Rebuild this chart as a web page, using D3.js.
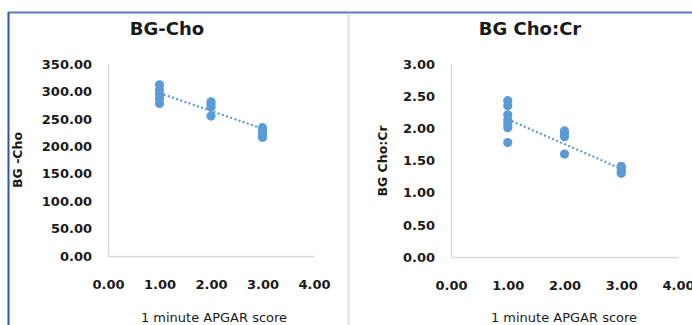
<!DOCTYPE html>
<html>
<head>
<meta charset="utf-8">
<script src="https://cdn.jsdelivr.net/npm/d3@7"></script>
<style>
  body { margin: 0; background: #fff; }
  svg { display: block; font-family: "DejaVu Sans", sans-serif; }
</style>
</head>
<body>
<div id="chart"></div>
<script>
// Data
var xTicks = [0, 1, 2, 3, 4];

var choX = [1, 1, 1, 1, 1, 2, 2, 2, 2, 3, 3, 3, 3];
var choY = [312, 303, 295, 287, 278, 281, 276, 271, 255, 234, 228, 222, 216];
var choTicks = [0, 50, 100, 150, 200, 250, 300, 350];
var choTrend = [[1, 297], [3, 232]];

var ratioX = [1, 1, 1, 1, 1, 1, 1, 2, 2, 2, 2, 3, 3, 3, 3];
var ratioY = [2.43, 2.35, 2.21, 2.13, 2.06, 2.01, 1.78, 1.96, 1.91, 1.87, 1.60, 1.41, 1.37, 1.33, 1.30];
var ratioTicks = [0, 0.5, 1, 1.5, 2, 2.5, 3];
var ratioTrend = [[1, 2.14], [3, 1.37]];

var dotColor = "#5b9bd5";
var axisColor = "#d9d9d9";

var svg = d3.select("#chart")
    .append("svg")
    .attr("width", 692)
    .attr("height", 325);

svg.append("rect").attr("width", 692).attr("height", 325).attr("fill", "#fff");

// panel frame
svg.append("line")
    .attr("x1", 8.5).attr("x2", 692).attr("y1", 12.5).attr("y2", 12.5)
    .attr("stroke", "#5a7fc0").attr("stroke-width", 2);
svg.append("line")
    .attr("x1", 8.5).attr("x2", 8.5).attr("y1", 12).attr("y2", 325)
    .attr("stroke", "#2f55a4").attr("stroke-width", 2);
svg.append("line")
    .attr("x1", 348.5).attr("x2", 348.5).attr("y1", 13.5).attr("y2", 325)
    .attr("stroke", "#e0e0e0").attr("stroke-width", 2);

function drawPanel(opt) {
    var g = svg.append("g");

    var xScale = d3.scaleLinear().domain([0, 4]).range([opt.left, opt.right]);
    var yScale = d3.scaleLinear().domain([0, opt.yMax]).range([opt.bottom, opt.top]);

    // axes
    var bottomAxis = d3.axisBottom(xScale).tickValues(xTicks).tickSize(0).tickPadding(24)
        .tickFormat(d3.format(".2f"));
    var leftAxis = d3.axisLeft(yScale).tickValues(opt.yTicks).tickSize(0).tickPadding(16)
        .tickFormat(d3.format(".2f"));

    var xg = g.append("g").attr("transform", `translate(0, ${opt.bottom})`).call(bottomAxis);
    var yg = g.append("g").attr("transform", `translate(${opt.left}, 0)`).call(leftAxis);

    [xg, yg].forEach(function(a) {
        a.select(".domain").attr("stroke", axisColor).attr("stroke-width", 1.5);
        a.selectAll("text")
            .attr("font-family", "DejaVu Sans")
            .attr("font-size", "13px")
            .attr("font-weight", "bold")
            .attr("fill", "#1a1a1a");
    });

    // trend line
    var line = d3.line().x(d => xScale(d[0])).y(d => yScale(d[1]));
    g.append("path")
        .datum(opt.trend)
        .attr("d", line)
        .attr("fill", "none")
        .attr("stroke", dotColor)
        .attr("stroke-width", 2.2)
        .attr("stroke-dasharray", "2,2.4");

    // points
    g.selectAll("circle")
        .data(opt.xs)
        .enter()
        .append("circle")
        .attr("cx", d => xScale(d))
        .attr("cy", (d, i) => yScale(opt.ys[i]))
        .attr("r", 4.6)
        .attr("fill", dotColor);

    // title
    g.append("text")
        .attr("x", opt.titleX)
        .attr("y", 35)
        .attr("text-anchor", "middle")
        .attr("font-size", "18px")
        .attr("font-weight", "bold")
        .attr("fill", "#1a1a1a")
        .text(opt.title);

    // x label
    g.append("text")
        .attr("x", opt.xLabelX)
        .attr("y", 322)
        .attr("text-anchor", "middle")
        .attr("font-size", "13px")
        .attr("fill", "#1a1a1a")
        .text("1 minute APGAR score");

    // y label
    g.append("text")
        .attr("transform", `translate(${opt.yLabelX}, ${opt.yLabelY}) rotate(-90)`)
        .attr("text-anchor", "middle")
        .attr("dy", "0.35em")
        .attr("font-size", "12.5px")
        .attr("font-weight", "bold")
        .attr("fill", "#1a1a1a")
        .text(opt.yLabel);
}

drawPanel({
    xs: choX, ys: choY, yTicks: choTicks, yMax: 350, trend: choTrend,
    left: 108, right: 314, top: 64, bottom: 256,
    title: "BG-Cho", titleX: 167, xLabelX: 214,
    yLabel: "BG -Cho", yLabelX: 18, yLabelY: 160
});

drawPanel({
    xs: ratioX, ys: ratioY, yTicks: ratioTicks, yMax: 3, trend: ratioTrend,
    left: 451, right: 678, top: 64, bottom: 257,
    title: "BG Cho:Cr", titleX: 530, xLabelX: 564,
    yLabel: "BG Cho:Cr", yLabelX: 383, yLabelY: 161
});
</script>
</body>
</html>
